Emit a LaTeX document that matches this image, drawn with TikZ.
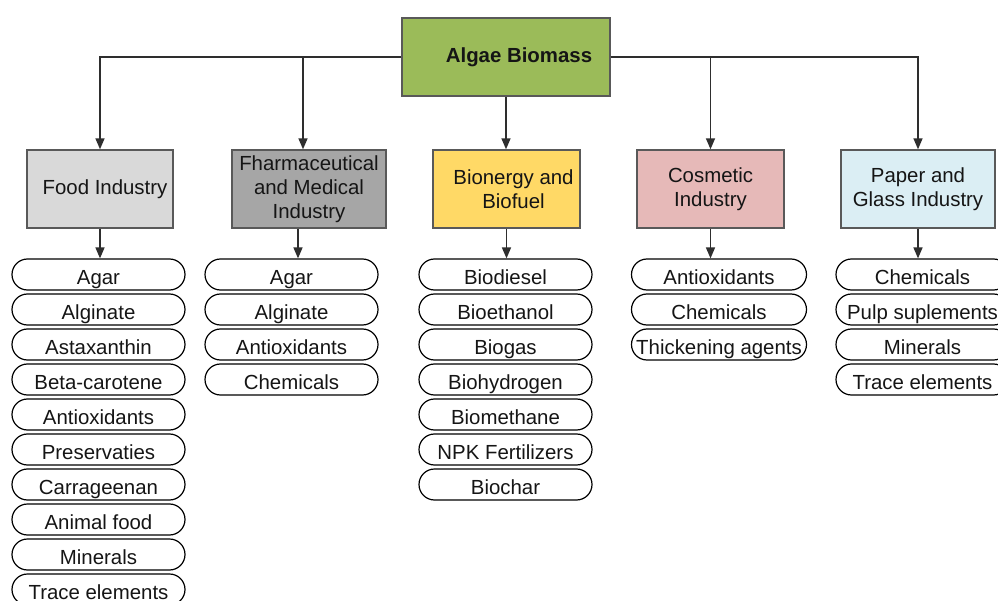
\documentclass[tikz,border=0pt]{standalone}
\usepackage{fontspec}
\setmainfont{Liberation Sans}
\usetikzlibrary{arrows.meta,calc}
\definecolor{algaegreen}{HTML}{9BBB59}
\definecolor{foodgray}{HTML}{D9D9D9}
\definecolor{pharmagray}{HTML}{A6A6A6}
\definecolor{bioyellow}{HTML}{FFD966}
\definecolor{cospink}{HTML}{E6B9B8}
\definecolor{paperblue}{HTML}{DBEEF4}
\definecolor{linegray}{HTML}{2E2E2E}
\definecolor{boxborder}{HTML}{595959}
\definecolor{txt}{HTML}{151515}
\tikzset{
  basefont/.style={font=\fontsize{20.4}{24}\selectfont, text=txt},
  catbox/.style={basefont, draw=boxborder, line width=1.4pt, minimum height=78pt, inner sep=2pt, align=center},
  pill/.style={basefont, draw=black, line width=1.2pt, rounded corners=15.5pt, minimum width=173pt, minimum height=31pt, inner sep=0pt, text height=19.6pt, text depth=0pt},
  arr/.style={draw=linegray, line width=1.5pt, -{Triangle[width=9pt,length=11pt]}}
}
\begin{document}
\begin{tikzpicture}[x=1pt,y=-1pt]
\clip (0,0) rectangle (998,601);
\fill[white] (0,0) rectangle (998,601);

\node[catbox, fill=algaegreen, minimum width=208pt, font=\fontsize{20.4}{24}\selectfont\bfseries] (algae) at (506,57) {\hspace*{26pt}Algae Biomass};

\node[catbox, fill=foodgray, minimum width=146pt] (food) at (100,189) {\hspace*{10pt}Food Industry};
\node[catbox, fill=pharmagray, minimum width=154pt] (pharma) at (309,189) {Fharmaceutical\\and Medical\\Industry};
\node[catbox, fill=bioyellow, minimum width=147pt] (bio) at (506.5,189) {\hspace*{14pt}Bionergy and\\\hspace*{14pt}Biofuel};
\node[catbox, fill=cospink, minimum width=147pt] (cos) at (710.5,189) {Cosmetic\\Industry};
\node[catbox, fill=paperblue, minimum width=154pt] (paper) at (918,189) {Paper and\\Glass Industry};

% top connectors
\draw[arr] (algae.west) -| (food.north);
\draw[arr] ([xshift=-6pt]pharma.north |- algae.west) -- ([xshift=-6pt]pharma.north);
\draw[arr] (algae.south) -- (algae.south |- bio.north);
\draw[arr] (algae.east) -| (cos.north);
\draw[arr] (algae.east) -| (paper.north);

% pills
\foreach [count=\i] \t in {Agar,Alginate,Astaxanthin,Beta-carotene,Antioxidants,Preservaties,Carrageenan,Animal food,Minerals,Trace elements}
  \node[pill] (f\i) at (98.5,239.5+35*\i) {\t};
\foreach [count=\i] \t in {Agar,Alginate,Antioxidants,Chemicals}
  \node[pill] (p\i) at (291.5,239.5+35*\i) {\t};
\foreach [count=\i] \t in {Biodiesel,Bioethanol,Biogas,Biohydrogen,Biomethane,NPK Fertilizers,Biochar}
  \node[pill] (b\i) at (505.5,239.5+35*\i) {\t};
\foreach [count=\i] \t in {Antioxidants,Chemicals,Thickening agents}
  \node[pill, minimum width=175pt] (c\i) at (719,239.5+35*\i) {\t};
\foreach [count=\i] \t in {Chemicals,Pulp suplements,Minerals,Trace elements}
  \node[pill] (q\i) at (922.5,239.5+35*\i) {\t};

% lower connectors
\draw[arr] (food.south) -- (food.south |- f1.north);
\draw[arr] ([xshift=-11pt]pharma.south) -- ([xshift=-11pt]pharma.south |- p1.north);
\draw[arr] (bio.south) -- (bio.south |- b1.north);
\draw[arr] (cos.south) -- (cos.south |- c1.north);
\draw[arr] (paper.south) -- (paper.south |- q1.north);
\end{tikzpicture}
\end{document}
